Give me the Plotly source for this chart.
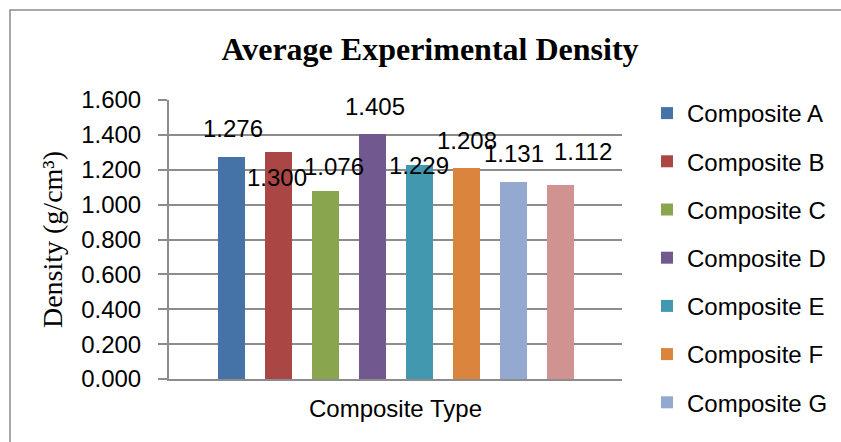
import plotly.graph_objects as go

# Average experimental density per composite
composites = ["Composite A", "Composite B", "Composite C", "Composite D",
              "Composite E", "Composite F", "Composite G", "Composite H"]
density = [1.276, 1.300, 1.076, 1.405, 1.229, 1.208, 1.131, 1.112]

colors = ["#4572A7", "#AA4643", "#89A54E", "#71588F",
          "#4198AF", "#DB843D", "#93A9CF", "#D19392"]

# pixel offsets (dx, dy) of each value label relative to its bar top
label_offsets = [(1, 28), (-1, -25), (9, 25), (3, 28),
                 (0, -1), (1, 28), (1, 28), (23, 34)]

SANS = "Liberation Sans, Arial, sans-serif"
SERIF = "Liberation Serif, Times New Roman, serif"
GRID = "#8c8c8c"
FS = 24

fig = go.Figure()
for i, (name, val, col) in enumerate(zip(composites, density, colors)):
    fig.add_trace(go.Bar(
        x=[i], y=[val], name=name, width=0.585,
        marker=dict(color=col, line=dict(width=0)),
        legendgroup=name,
        showlegend=(i < 7),
        hoverinfo="name+y",
    ))
    dx, dy = label_offsets[i]
    fig.add_annotation(
        x=i, y=val, xref="x", yref="y",
        text=f"{val:.3f}", showarrow=False,
        xshift=dx, yshift=dy, yanchor="middle", xanchor="center",
        font=dict(family=SANS, size=FS, color="#000000"),
    )

fig.update_layout(
    width=841, height=442,
    margin=dict(l=169, r=219, t=100, b=63),
    paper_bgcolor="white", plot_bgcolor="white",
    title=dict(text="<b>Average Experimental Density</b>",
               font=dict(family=SERIF, size=32, color="#000000"),
               x=430 / 841, xanchor="center", y=1 - 49 / 442, yanchor="middle"),
    showlegend=True,
    legend=dict(xref="container", yref="container",
                x=647 / 841, xanchor="left", y=1 - 91 / 442, yanchor="top",
                traceorder="grouped", tracegroupgap=14, maxheight=1000,
                font=dict(family=SANS, size=FS, color="#000000"),
                bgcolor="rgba(0,0,0,0)"),
    bargap=0,
)

fig.update_xaxes(
    range=[-1.33, 8.31], showticklabels=False, ticks="",
    showgrid=False, zeroline=False,
    showline=True, linecolor=GRID, linewidth=2,
    title=dict(text="Composite Type", standoff=20,
               font=dict(family=SANS, size=FS, color="#000000")),
)
fig.update_yaxes(
    range=[0, 1.6], dtick=0.2, tickformat=".3f",
    showgrid=True, gridcolor=GRID, gridwidth=1.5,
    zeroline=False, showline=True, linecolor=GRID, linewidth=2,
    ticks="outside", ticklen=9, tickcolor=GRID, tickwidth=1.5,
    ticklabelstandoff=12,
    tickfont=dict(family=SANS, size=FS, color="#000000"),
    title=dict(text="Density (g/cm³)", standoff=10,
               font=dict(family=SERIF, size=28, color="#000000")),
)

# outer chart frame (extends past the right and bottom edges)
fig.add_shape(type="rect", xref="paper", yref="paper",
              x0=(10 - 169) / 453, x1=(860 - 169) / 453,
              y0=(379 - 460) / 279, y1=(379 - 10) / 279,
              line=dict(color="#8c8c8c", width=1.5), fillcolor="rgba(0,0,0,0)",
              layer="below")

fig.write_html("out.html")
